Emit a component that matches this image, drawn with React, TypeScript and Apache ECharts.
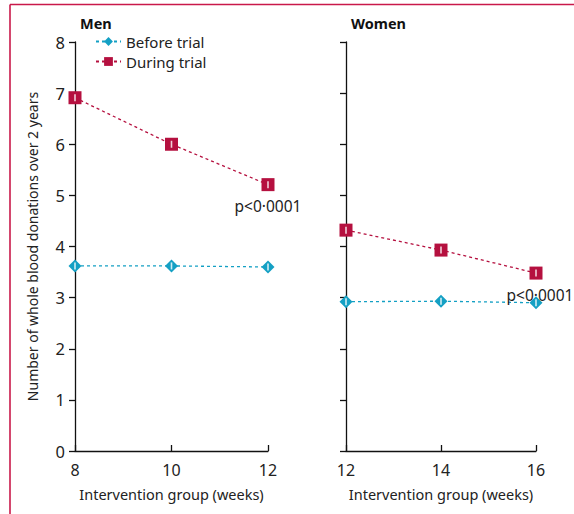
import React, { useEffect, useRef } from "react";
import * as echarts from "echarts";

const menWeeks = [8, 10, 12];
const womenWeeks = [12, 14, 16];
const menBefore = [3.62, 3.62, 3.6];
const menDuring = [6.91, 6.0, 5.21];
const womenBefore = [2.92, 2.93, 2.9];
const womenDuring = [4.32, 3.93, 3.48];
const yTicks = [0, 1, 2, 3, 4, 5, 6, 7, 8];
const pLabel = "p<0·0001";

const TEAL = "#14a0c4";
const CRIMSON = "#b5103f";
const FONT = "'Noto Sans', sans-serif";

export default function App() {
  const ref = useRef<HTMLDivElement>(null);
  useEffect(() => {
    document.body.style.margin = "0";
    const chart = echarts.init(ref.current!, null, { renderer: "svg" });
    const pair = (xs: number[], ys: number[]) => xs.map((x, i) => [x, ys[i]]);
    const mkLine = (name: string, xi: number, data: number[][], color: string, symbol: string, size: number, withP: boolean) => ({
      name,
      type: "line",
      xAxisIndex: xi,
      yAxisIndex: xi,
      data: data.map((d, i) =>
        withP && i === data.length - 1
          ? {
              value: d,
              label: {
                show: true,
                position: "bottom",
                distance: 7,
                offset: [xi === 1 ? 4 : 0, 0],
                formatter: pLabel,
                color: "#222",
                fontSize: 15.5,
                fontFamily: FONT,
              },
            }
          : d
      ),
      symbol,
      symbolSize: size,
      showSymbol: true,
      itemStyle: { color, opacity: 1 },
      lineStyle: { color, type: [3, 3], width: 1.3 },
      z: 3,
    });
    const bar = (xi: number, data: number[][]) => ({
      type: "scatter",
      xAxisIndex: xi,
      yAxisIndex: xi,
      data,
      symbol: "rect",
      symbolSize: [1.6, 7],
      itemStyle: { color: "#fff" },
      silent: true,
      z: 5,
    });
    const axisCommon = {
      axisLine: { show: true, lineStyle: { color: "#111", width: 1.3 } },
      splitLine: { show: false },
    };
    const xAxis = (i: number, min: number, max: number) => ({
      gridIndex: i,
      type: "value",
      min,
      max,
      interval: 2,
      ...axisCommon,
      axisTick: { show: true, inside: true, length: 6, lineStyle: { color: "#111", width: 1.3 } },
      axisLabel: { color: "#222", fontSize: 16, fontFamily: FONT, margin: 11 },
      name: "Intervention group (weeks)",
      nameLocation: "middle",
      nameGap: 35,
      nameTextStyle: { color: "#222", fontSize: 14.5, fontFamily: FONT },
    });
    const yAxis = (i: number, labels: boolean) => ({
      gridIndex: i,
      type: "value",
      min: yTicks[0],
      max: yTicks[yTicks.length - 1],
      interval: 1,
      ...axisCommon,
      axisTick: { show: true, length: 6, lineStyle: { color: "#111", width: 1.3 } },
      axisLabel: { show: labels, color: "#222", fontSize: 16.5, fontFamily: FONT, margin: 10 },
      ...(labels
        ? {
            name: "Number of whole blood donations over 2 years",
            nameLocation: "middle",
            nameGap: 36,
            nameTextStyle: { color: "#222", fontSize: 14, fontFamily: FONT },
          }
        : {}),
    });
    chart.setOption({
      animation: false,
      title: [
        { text: "Men", left: 75, top: 10, textStyle: { fontSize: 14.5, fontWeight: "bold", color: "#111", fontFamily: FONT } },
        { text: "Women", left: 346, top: 10, textStyle: { fontSize: 14.5, fontWeight: "bold", color: "#111", fontFamily: FONT } },
      ],
      legend: {
        left: 90,
        top: 29,
        orient: "vertical",
        itemWidth: 25,
        itemHeight: 11,
        itemGap: 5,
        data: ["Before trial", "During trial"],
        textStyle: { color: "#222", fontSize: 15, fontFamily: FONT },
      },
      grid: [
        { left: 75, top: 42, width: 193, height: 409 },
        { left: 346, top: 42, width: 190, height: 409 },
      ],
      xAxis: [xAxis(0, menWeeks[0], menWeeks[2]), xAxis(1, womenWeeks[0], womenWeeks[2])],
      yAxis: [yAxis(0, true), yAxis(1, false)],
      series: [
        mkLine("Before trial", 0, pair(menWeeks, menBefore), TEAL, "diamond", 13, false),
        mkLine("During trial", 0, pair(menWeeks, menDuring), CRIMSON, "rect", 13, true),
        mkLine("Before trial", 1, pair(womenWeeks, womenBefore), TEAL, "diamond", 13, false),
        mkLine("During trial", 1, pair(womenWeeks, womenDuring), CRIMSON, "rect", 13, true),
        bar(0, pair(menWeeks, menBefore)),
        bar(0, pair(menWeeks, menDuring)),
        bar(1, pair(womenWeeks, womenBefore)),
        bar(1, pair(womenWeeks, womenDuring)),
      ],
      graphic: [
        { type: "line", shape: { x1: 10, y1: 4.5, x2: 574, y2: 4.5 }, style: { stroke: "#c9184a", lineWidth: 1.6 } },
        { type: "line", shape: { x1: 10, y1: 4.5, x2: 10, y2: 514 }, style: { stroke: "#c9184a", lineWidth: 1.6 } },
      ],
    });
    return () => chart.dispose();
  }, []);
  return <div ref={ref} style={{ width: 574, height: 514 }} />;
}
